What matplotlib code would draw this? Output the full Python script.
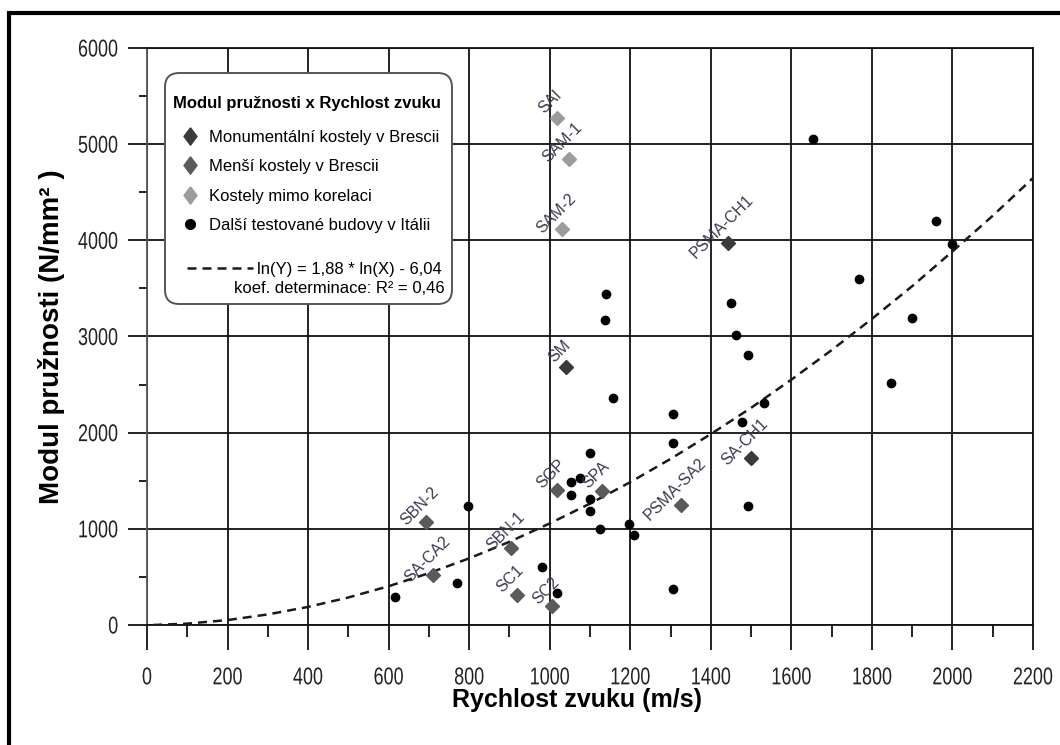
import matplotlib
matplotlib.use('Agg')
import matplotlib.pyplot as plt
from matplotlib.lines import Line2D
from matplotlib.patches import FancyBboxPatch, Rectangle
from matplotlib.patheffects import AbstractPathEffect
from matplotlib.transforms import Affine2D

plt.rcParams['font.family'] = ['Liberation Sans', 'DejaVu Sans']

# --- data ------------------------------------------------------------------
mon_names = ['SM', 'PSMA-CH1', 'SA-CH1']
mon_x = [1041, 1443, 1499]
mon_y = [2680, 3974, 1735]

small_names = ['SBN-2', 'SA-CA2', 'SBN-1', 'SC1', 'SC2', 'SGP', 'SPA', 'PSMA-SA2']
small_x = [692, 711, 905, 918, 1006, 1019, 1131, 1326]
small_y = [1073, 516, 805, 315, 193, 1403, 1393, 1250]

out_names = ['SAI', 'SAM-1', 'SAM-2']
out_x = [1017, 1047, 1031]
out_y = [5272, 4847, 4113]

other_x = [615, 769, 797, 980, 1017, 1052, 1052, 1075, 1100, 1100, 1100, 1126,
           1139, 1138, 1156, 1197, 1210, 1307, 1307, 1307, 1450, 1463, 1493,
           1478, 1531, 1492, 1655, 1768, 1848, 1899, 1960, 2000]
other_y = [295, 437, 1237, 603, 330, 1490, 1350, 1532, 1787, 1305, 1185, 1003,
           3437, 3173, 2360, 1048, 932, 2193, 1893, 373, 3348, 3016, 2810,
           2115, 2312, 1238, 5050, 3600, 2515, 3195, 4200, 3965]

# trend curve, read at 100 m/s steps
trend_x = [15, 100, 200, 300, 400, 500, 600, 700, 800, 900, 1000, 1100, 1200,
           1300, 1400, 1500, 1600, 1700, 1800, 1900, 2000, 2100, 2200]
trend_y = [0, 14, 51, 110, 188, 286, 403, 539, 693, 865, 1056, 1262, 1485,
           1727, 1985, 2258, 2551, 2858, 3183, 3523, 3884, 4255, 4647]

labels_legend = ['Monumentální kostely v Brescii', 'Menší kostely v Brescii',
                 'Kostely mimo korelaci', 'Další testované budovy v Itálii']
trend_label = 'ln(Y) = 1,88 * ln(X) - 6,04'
trend_label2 = 'koef. determinace: R² = 0,46'

c_mon = '#3a3a3a'
c_small = '#5a5a5a'
c_out = '#9c9c9c'


class Squeeze(AbstractPathEffect):
    """Draw glyphs narrower (the reference uses a condensed face for ticks)."""

    def __init__(self, sx=0.74, anchor=0.5):
        super().__init__()
        self.sx = sx
        self.anchor = anchor

    def draw_path(self, renderer, gc, tpath, affine, rgbFace=None):
        ext = tpath.get_extents()
        x0 = ext.x0 + self.anchor * ext.width
        t = Affine2D().translate(-x0, 0).scale(self.sx, 1).translate(x0, 0) + affine
        renderer.draw_path(gc, tpath, t, rgbFace)


fig = plt.figure(figsize=(10.6, 7.45), dpi=100)
ax = fig.add_axes([0.1387, 0.1611, 0.8358, 0.7745])

trend, = ax.plot(trend_x, trend_y, color='#1a1a1a', lw=1.8, dashes=(3.6, 2.4), zorder=3)
ax.plot(other_x, other_y, 'o', color='black', ms=6, ls='none', zorder=4)
ax.plot(mon_x, mon_y, 'D', color=c_mon, ms=7.5, ls='none', zorder=4)
ax.plot(small_x, small_y, 'D', color=c_small, ms=7.5, ls='none', zorder=4)
ax.plot(out_x, out_y, 'D', color=c_out, ms=7.5, ls='none', zorder=4)

for names, xs, ys in [(mon_names, mon_x, mon_y), (small_names, small_x, small_y),
                      (out_names, out_x, out_y)]:
    for n, x, y in zip(names, xs, ys):
        ax.annotate(n, (x, y), xytext=(-4.5, 11.5), textcoords='offset points',
                    rotation=45, ha='center', va='center', fontsize=11.5,
                    color='#3a3a50', zorder=4)

ax.set_xlim(0, 2200)
ax.set_ylim(0, 6000)
ax.set_xticks(range(0, 2201, 200))
ax.set_xticks(range(100, 2200, 200), minor=True)
ax.set_yticks(range(0, 6001, 1000))
ax.set_yticks(range(500, 6000, 1000), minor=True)
ax.grid(True, which='major', color='#111111', lw=1.3)
for s in ax.spines.values():
    s.set_color('#111111')
    s.set_linewidth(1.3)
ax.spines['left'].set_color('#555555')
ax.tick_params(axis='x', which='major', length=18, width=1.3, pad=12.5, labelsize=17.5,
               color='#111111')
ax.tick_params(axis='x', which='minor', length=8.5, width=1.3, color='#111111')
ax.tick_params(axis='y', which='major', length=13.5, width=1.3, pad=7, labelsize=17.5,
               color='#111111')
ax.tick_params(axis='y', which='minor', length=6, width=1.3, color='#111111')
for lbl in ax.get_xticklabels():
    lbl.set_color('#222222')
    lbl.set_path_effects([Squeeze(0.74, 0.5)])
for lbl in ax.get_yticklabels():
    lbl.set_color('#222222')
    lbl.set_path_effects([Squeeze(0.74, 1.0)])

ax.set_xlabel('Rychlost zvuku (m/s)', fontsize=18, fontweight='bold', va='top')
ax.xaxis.set_label_coords(0.485, -0.110)
ax.set_ylabel('Modul pružnosti (N/mm² )', fontsize=20, fontweight='bold')
ax.yaxis.set_label_coords(-0.093, 0.5)

# legend box
box = FancyBboxPatch((0.0203, 0.5563), 0.3239, 0.4003,
                     boxstyle='round,pad=0,rounding_size=0.016', mutation_aspect=1.536,
                     transform=ax.transAxes, fc='white', ec='#555555', lw=1.4, zorder=5)
ax.add_patch(box)

diamond = [(0, 1), (0.75, 0), (0, -1), (-0.75, 0), (0, 1)]
handles = [
    Line2D([], [], marker=diamond, color=c_mon, ls='none', ms=12.5),
    Line2D([], [], marker=diamond, color=c_small, ls='none', ms=12.5),
    Line2D([], [], marker=diamond, color=c_out, ls='none', ms=12.5),
    Line2D([], [], marker='o', color='black', ls='none', ms=7),
]
leg1 = ax.legend(handles, labels_legend, loc='upper left', bbox_to_anchor=(0.0163, 0.9369),
                 frameon=False, fontsize=12, title='Modul pružnosti x Rychlost zvuku',
                 title_fontproperties={'weight': 'bold', 'size': 12}, alignment='left',
                 handlelength=2.0, handletextpad=0.15, labelspacing=0.87,
                 borderpad=0.7, borderaxespad=0)
leg1._legend_box.sep = 13.3  # a bit more room under the title
leg1.set_zorder(6)
ax.add_artist(leg1)

leg2 = ax.legend([trend], [trend_label], loc='upper left', bbox_to_anchor=(0.0451, 0.629),
                 frameon=False, fontsize=12, handlelength=3.95, handletextpad=0.25,
                 borderpad=0, borderaxespad=0)
leg2.set_zorder(6)
ax.text(0.3363, 0.5823, trend_label2, transform=ax.transAxes, ha='right', va='center',
        fontsize=12, zorder=6)

fig.add_artist(Rectangle((9 / 1060, -0.05), 1.2, 1 - 13 / 745 + 0.05,
                         transform=fig.transFigure, fill=False, ec='black', lw=3))

fig.savefig('out.png', dpi=100)
